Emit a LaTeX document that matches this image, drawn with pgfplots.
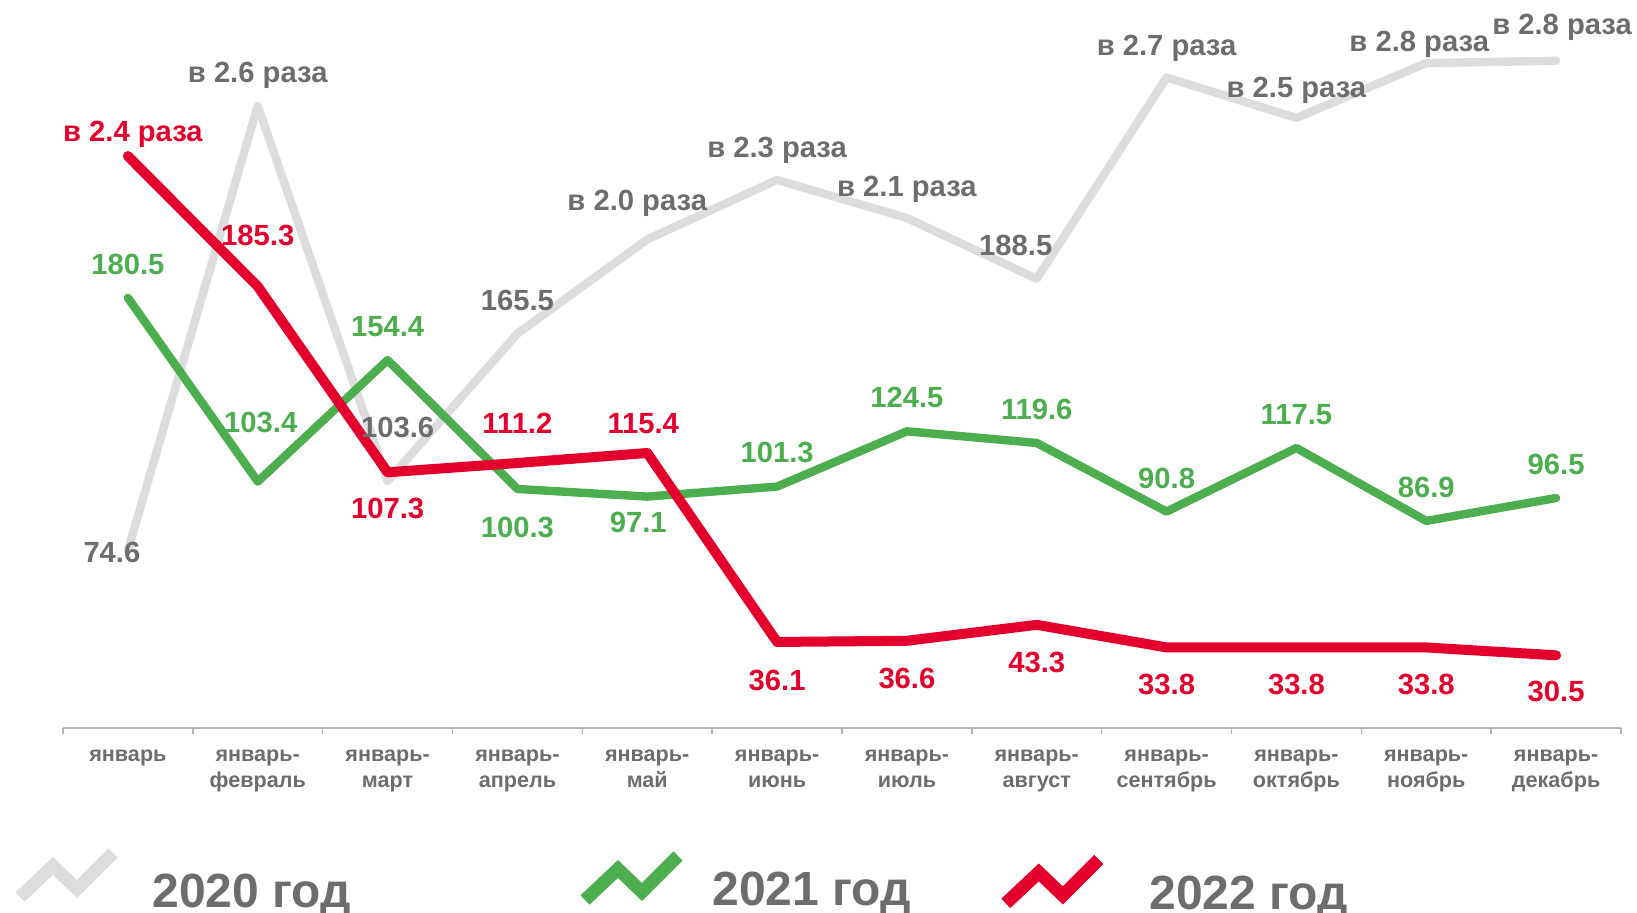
\documentclass[border=0pt]{standalone}
\usepackage{fontspec}
\setmainfont{Liberation Sans}
\usepackage{pgfplots}
\usepackage{pgfplotstable}
\pgfplotsset{compat=1.18}

\definecolor{line20}{HTML}{DDDDDD}
\definecolor{txtgray}{HTML}{6D6D6D}
\definecolor{green21}{HTML}{4DAE4F}
\definecolor{red22}{HTML}{E3002D}
\definecolor{axisgray}{HTML}{B4B4B4}

% x, value, label offset (pt), label
\pgfplotstableread[col sep=comma]{
x,y,dx,dy,label
0.5,74.6,-8,-1,74.6
1.5,261,0,17,в 2.6 раза
2.5,103.6,5,27,103.6
3.5,165.5,0,17,165.5
4.5,205,-5,19.5,в 2.0 раза
5.5,230,0,16.5,в 2.3 раза
6.5,214,0,16,в 2.1 раза
7.5,188.5,-10.5,17,188.5
8.5,273,0,16,в 2.7 раза
9.5,256,0,15.3,в 2.5 раза
10.5,279,-3.5,11,в 2.8 раза
11.5,280,3,18.5,в 2.8 раза
}\tblA

\pgfplotstableread[col sep=comma]{
x,y,dx,dy,label
0.5,180.5,0,17,180.5
1.5,103.4,1.5,30,103.4
2.5,154.4,0,17,154.4
3.5,100.3,0,-19,100.3
4.5,97.1,-4.5,-12.5,97.1
5.5,101.3,0,17.5,101.3
6.5,124.5,0,17,124.5
7.5,119.6,0,17,119.6
8.5,90.8,0,17,90.8
9.5,117.5,0,17,117.5
10.5,86.9,0,17,86.9
11.5,96.5,0,17,96.5
}\tblB

\pgfplotstableread[col sep=comma]{
x,y,dx,dy,label
0.5,240,2.5,12.5,в 2.4 раза
1.5,185.3,0,25.7,185.3
2.5,107.3,0,-18,107.3
3.5,111.2,0,20,111.2
4.5,115.4,-2,15,115.4
5.5,36.1,0,-19,36.1
6.5,36.6,0,-18.5,36.6
7.5,43.3,0,-18.5,43.3
8.5,33.8,0,-18.5,33.8
9.5,33.8,0,-18.5,33.8
10.5,33.8,0,-18.5,33.8
11.5,30.5,0,-18,30.5
}\tblC

\begin{document}
\begin{tikzpicture}
\begin{axis}[
  scale only axis, width=779pt, height=364pt,
  xmin=0, xmax=12, ymin=0, ymax=305.5,
  axis x line*=bottom, axis y line=none,
  x axis line style={axisgray, line width=0.8pt, -},
  xtick={0.5,1.5,...,11.5},
  xticklabels={январь,{январь-\\февраль},{январь-\\март},{январь-\\апрель},{январь-\\май},{январь-\\июнь},{январь-\\июль},{январь-\\август},{январь-\\сентябрь},{январь-\\октябрь},{январь-\\ноябрь},{январь-\\декабрь}},
  major tick length=0pt,
  minor xtick={0,1,...,12},
  minor tick length=3pt,
  tick align=outside,
  minor tick style={axisgray, line width=0.8pt},
  xticklabel style={font=\fontsize{10.8}{13}\selectfont\bfseries, text=txtgray, align=center, anchor=north, inner sep=0pt, yshift=-10.8pt},
  clip=false,
  nodes near coords,
  point meta=explicit symbolic,
  visualization depends on={\thisrow{dx}\as\labdx},
  visualization depends on={\thisrow{dy}\as\labdy},
  nodes near coords style={anchor=center, inner sep=0pt, xshift=\labdx pt, yshift=\labdy pt,
    font=\fontsize{14.6}{15}\selectfont\bfseries, text height=10.45pt, text depth=0pt},
]
\addplot[line20, line width=4.2pt, line cap=round, line join=round,
  nodes near coords style={text=txtgray}] table[x=x, y=y, meta=label] {\tblA};
\addplot[green21, line width=4.2pt, line cap=round, line join=round,
  nodes near coords style={text=green21}] table[x=x, y=y, meta=label] {\tblB};
\addplot[red22, line width=5pt, line cap=round, line join=round,
  nodes near coords style={text=red22}] table[x=x, y=y, meta=label] {\tblC};
\end{axis}

% legend
\begin{scope}[line width=6.5pt, line cap=butt, line join=miter]
\draw[line20, shift={(-21.5pt,-84.5pt)}] (0pt,0pt) -- (16.5pt,15.5pt) -- (28.5pt,4pt) -- (46.5pt,22pt);
\draw[green21, shift={(261pt,-86pt)}] (0pt,0pt) -- (16.5pt,15.5pt) -- (28.5pt,4pt) -- (46.5pt,22pt);
\draw[red22, shift={(471.4pt,-87.7pt)}] (0pt,0pt) -- (16.5pt,15.5pt) -- (28.5pt,4pt) -- (46.5pt,22pt);
\end{scope}
\begin{scope}[every node/.style={anchor=base west, inner sep=0pt, text=txtgray, font=\fontsize{24}{26}\selectfont\bfseries}]
\node at (44.5pt,-90pt) {2020 год};
\node at (324.5pt,-89pt) {2021 год};
\node at (543pt,-91pt) {2022 год};
\end{scope}

\pgfresetboundingbox
\path (-31.5pt,-92.5pt) rectangle (787pt,364pt);
\end{tikzpicture}
\end{document}
